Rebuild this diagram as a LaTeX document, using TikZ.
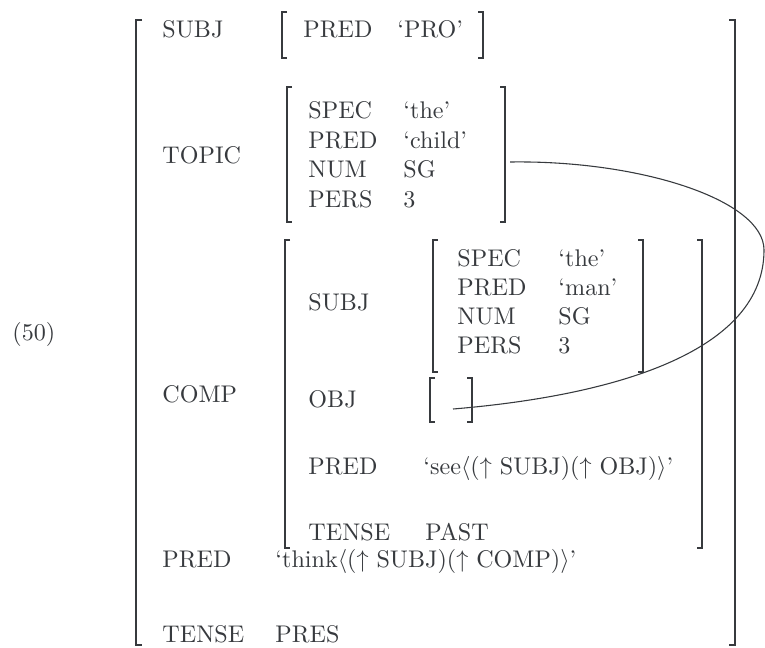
\documentclass[tikz,border=0pt]{standalone}
\usepackage{tikz}
\usetikzlibrary{positioning}
\definecolor{fsink}{RGB}{55,58,62}
\tikzset{
  attr/.style={
    anchor=base west,
    inner sep=0pt,
    text=fsink
  },
  brack/.style={
    draw=fsink,
    line width=0.7pt
  },
  link/.style={
    draw=fsink,
    line width=0.45pt
  }
}

\begin{document}
\begin{tikzpicture}[x=0.415pt, y=-0.415pt]
  \useasboundingbox (0,0) rectangle (765,647);
  \node[attr] (exnum) at (12,340) {(50)};
  % outer structure
  \draw[brack] (142,20) -| (136,645) -- ++(6,0);
  \draw[brack] (729,20) -| (735,645) -- ++(-6,0);
  \node[attr] (subj) at (162,37) {SUBJ};
  \draw[brack] (287,12) -| (282,58) -- ++(5,0);
  \node[attr] (subjpred) at (303,37) {PRED};
  \node[attr] (subjpredval) at (397,37) {`PRO'};
  \draw[brack] (478,12) -| (483,58) -- ++(-5,0);
  % topic
  \node[attr] (topic) at (162,163) {TOPIC};
  \draw[brack] (292,87) -| (287,222) -- ++(5,0);
  \node[attr] (tspec) at (308,118) {SPEC};
  \node[attr] (tspecval) at (403,118) {`the'};
  \node[attr] (tpred) at (308,148) {PRED};
  \node[attr] (tpredval) at (403,148) {`child'};
  \node[attr] (tnum) at (308,177) {NUM};
  \node[attr] (tnumval) at (403,177) {SG};
  \node[attr] (tpers) at (308,207) {PERS};
  \node[attr] (tpersval) at (403,207) {3};
  \draw[brack] (500,87) -| (505,222) -- ++(-5,0);
  \coordinate (topicend) at (510,162);
  % comp
  \node[attr] (comp) at (162,402) {COMP};
  \draw[brack] (290,240) -| (285,548) -- ++(5,0);
  \draw[brack] (697,240) -| (702,548) -- ++(-5,0);
  \node[attr] (csubj) at (308,310) {SUBJ};
  \draw[brack] (438,240) -| (433,372) -- ++(5,0);
  \node[attr] (cspec) at (457,266) {SPEC};
  \node[attr] (cspecval) at (558,266) {`the'};
  \node[attr] (cspred) at (457,295) {PRED};
  \node[attr] (cspredval) at (558,295) {`man'};
  \node[attr] (csnum) at (457,324) {NUM};
  \node[attr] (csnumval) at (558,324) {SG};
  \node[attr] (cspers) at (457,353) {PERS};
  \node[attr] (cspersval) at (558,353) {3};
  \draw[brack] (638,240) -| (643,372) -- ++(-5,0);
  \node[attr] (cobj) at (308,407) {OBJ};
  \draw[brack] (435,378) -| (430,422) -- ++(5,0);
  \draw[brack] (467,378) -| (472,422) -- ++(-5,0);
  \coordinate (objslot) at (453,409);
  \node[attr] (cpred) at (308,474) {PRED};
  \node[attr] (cpredval) at (423,474) {`see$\langle$($\uparrow$ SUBJ)($\uparrow$ OBJ)$\rangle$'};
  \node[attr] (ctense) at (308,540) {TENSE};
  \node[attr] (ctenseval) at (425,540) {PAST};
  % rest of outer structure
  \node[attr] (pred) at (162,567) {PRED};
  \node[attr] (predval) at (275,567) {`think$\langle$($\uparrow$ SUBJ)($\uparrow$ COMP)$\rangle$'};
  \node[attr] (tense) at (162,642) {TENSE};
  \node[attr] (tenseval) at (275,642) {PRES};
  % topic = obj
  \coordinate (loopturn) at (764,250);
  \draw[link] (topicend) .. controls +(130,-2) and +(0,-50) .. (loopturn)
    .. controls +(0,100) and +(167,-14) .. (objslot);
\end{tikzpicture}
\end{document}
